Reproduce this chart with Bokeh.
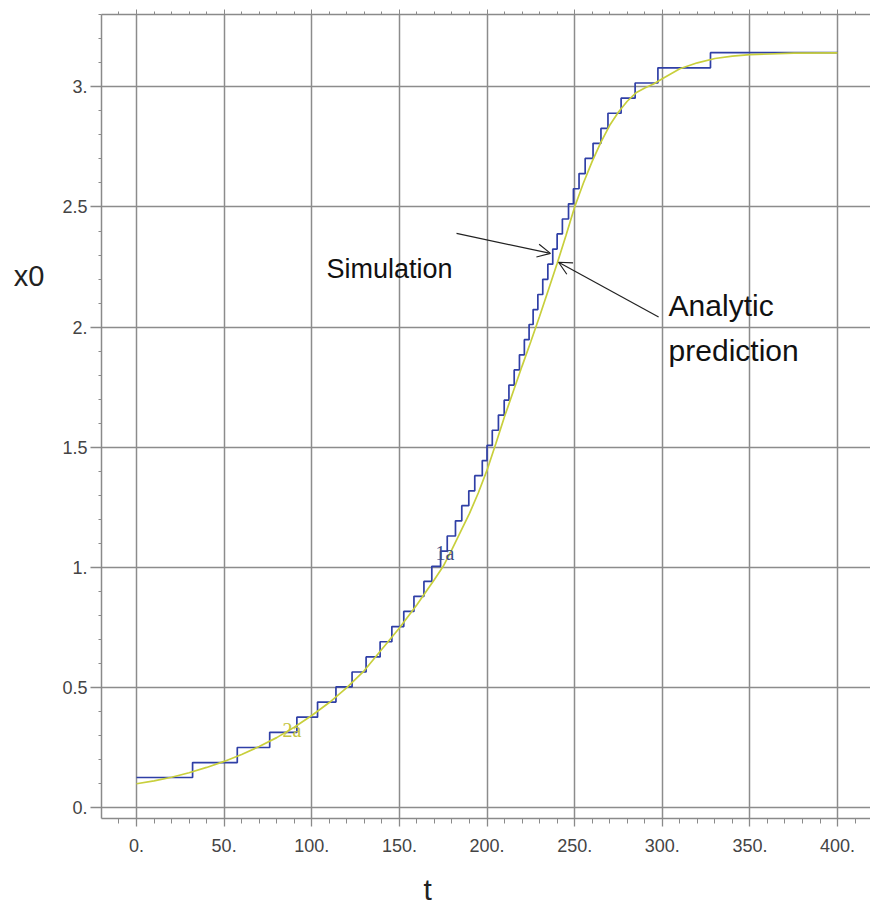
from bokeh.plotting import figure
from bokeh.models import FixedTicker, LinearAxis, Label, Arrow, OpenHead, Range1d
from bokeh.embed import file_html
from bokeh.resources import INLINE

# ---------------- data ----------------
# Simulation: stepwise levels x0 and the time at which each level begins
sim_t = [0, 32, 57.5, 76, 91.5, 103.3, 113.8, 123, 131, 139, 145.7, 152.5, 158.3,
         164, 168.5, 173.5, 177.3, 182, 185.6, 189.6, 193, 197.3, 200, 203, 206.5,
         209.8, 212.5, 215.5, 218.5, 221.3, 224, 226.3, 229, 231.8, 234.7, 237.5,
         240, 243, 246.5, 249.3, 252.5, 256, 260.5, 265, 269, 276.5, 284.5, 297.5,
         327.5]
sim_x0 = [0.126, 0.188, 0.251, 0.314, 0.377, 0.440, 0.503, 0.565, 0.628, 0.691,
          0.754, 0.817, 0.880, 0.942, 1.005, 1.068, 1.131, 1.194, 1.257, 1.319,
          1.382, 1.445, 1.508, 1.571, 1.634, 1.696, 1.759, 1.822, 1.885, 1.948,
          2.011, 2.073, 2.136, 2.199, 2.262, 2.325, 2.388, 2.450, 2.513, 2.576,
          2.639, 2.702, 2.765, 2.827, 2.890, 2.953, 3.016, 3.079, 3.142]
sim_t_end = 400

# Analytic prediction
ana_t = [0, 10, 20, 30, 40, 50, 60, 70, 80, 90, 100, 110, 120, 130, 140, 150, 160,
         170, 175, 180, 185, 190, 195, 200, 205, 210, 215, 220, 225, 230, 235, 240,
         245, 250, 255, 260, 265, 270, 275, 280, 285, 290, 295, 300, 310, 320, 330,
         340, 350, 375, 400]
ana_x0 = [0.100, 0.112, 0.127, 0.146, 0.168, 0.193, 0.222, 0.255, 0.292, 0.335,
          0.384, 0.438, 0.500, 0.571, 0.660, 0.748, 0.845, 0.950, 1.005, 1.075,
          1.150, 1.225, 1.310, 1.405, 1.515, 1.628, 1.733, 1.838, 1.940, 2.045,
          2.155, 2.265, 2.380, 2.500, 2.600, 2.690, 2.770, 2.840, 2.895, 2.940,
          2.975, 2.995, 3.012, 3.034, 3.075, 3.100, 3.118, 3.128, 3.134, 3.140,
          3.141]

x_ticks = [0, 50, 100, 150, 200, 250, 300, 350, 400]
x_tick_labels = ["0.", "50.", "100.", "150.", "200.", "250.", "300.", "350.", "400."]
y_ticks = [0, 0.5, 1.0, 1.5, 2.0, 2.5, 3.0]
y_tick_labels = ["0.", "0.5", "1.", "1.5", "2.", "2.5", "3."]
x_minor = [v * 10 for v in range(-2, 42)]
y_minor = [v / 10 for v in range(0, 34)]

x_title = "t"
y_title = "x0"

# ---------------- figure ----------------
p = figure(width=870, height=911,
           x_range=Range1d(-19.97, 418.8), y_range=Range1d(-0.0445, 3.301),
           output_backend="svg", toolbar_location=None,
           min_border_left=101, min_border_right=0, min_border_top=14,
           min_border_bottom=93)
p.outline_line_color = None
p.background_fill_color = "white"
p.border_fill_color = "white"

AX = "#8a8a8a"
FONT = "Liberation Sans"
NBSP = "\u00a0"

xt = FixedTicker(ticks=x_ticks, minor_ticks=x_minor)
yt = FixedTicker(ticks=y_ticks, minor_ticks=y_minor)
p.xaxis.ticker = xt
p.yaxis.ticker = yt
p.xaxis.major_label_overrides = dict(zip(x_ticks, x_tick_labels))
p.yaxis.major_label_overrides = dict(zip(y_ticks, y_tick_labels))

for ax in (p.xaxis[0], p.yaxis[0]):
    ax.axis_line_color = AX
    ax.axis_line_width = 1.5
    ax.major_tick_line_color = AX
    ax.major_tick_line_width = 1.3
    ax.minor_tick_line_color = AX
    ax.minor_tick_line_width = 1.0
    ax.major_tick_in = 0
    ax.minor_tick_in = 0
    ax.major_label_text_font = FONT
    ax.major_label_text_font_size = "18px"
    ax.major_label_text_color = "#444444"
    ax.axis_label_text_font = FONT
    ax.axis_label_text_font_style = "normal"
    ax.axis_label_text_color = "#222222"

p.xaxis.major_tick_out = 8
p.xaxis.minor_tick_out = 5
p.xaxis.major_label_standoff = 12
# axis title shifted left of centre with trailing no-break spaces
p.xaxis.axis_label = x_title + NBSP * 14
p.xaxis.axis_label_text_font_size = "30px"
p.xaxis.axis_label_standoff = 18

p.yaxis.major_tick_out = 11
p.yaxis.minor_tick_out = 3
p.yaxis.major_label_standoff = 3
# axis title raised above centre with extra (blank) lines below it
p.yaxis.axis_label = y_title + ("\n" + NBSP) * 8
p.yaxis.axis_label_orientation = "horizontal"
p.yaxis.axis_label_text_font_size = "29px"
p.yaxis.axis_label_text_line_height = 1.1
p.yaxis.axis_label_standoff = 15

top = LinearAxis(ticker=FixedTicker(ticks=x_ticks, minor_ticks=x_minor))
top.axis_line_color = AX
top.axis_line_width = 1.5
top.major_tick_line_color = AX
top.minor_tick_line_color = AX
top.major_tick_in = 0
top.minor_tick_in = 0
top.major_tick_out = 5
top.minor_tick_out = 3
top.major_label_text_font_size = "0px"
top.major_label_standoff = 0
p.add_layout(top, "above")

p.grid.grid_line_color = "#8c8c8c"
p.grid.grid_line_width = 1.5
p.xgrid.ticker = xt
p.ygrid.ticker = yt

# ---------------- curves ----------------
p.step(sim_t + [sim_t_end], sim_x0 + [sim_x0[-1]], mode="after",
       line_color="#2f3fa6", line_width=1.7)
p.line(ana_t, ana_x0, line_color="#c8cf3c", line_width=1.7)

# ---------------- texts & arrows ----------------
p.add_layout(Label(x=108.4, y=2.244, text="Simulation", text_font=FONT,
                   text_font_size="27px", text_color="#111111",
                   text_align="left", text_baseline="middle"))
p.add_layout(Label(x=303.6, y=2.091, text="Analytic", text_font=FONT,
                   text_font_size="30px", text_color="#111111",
                   text_align="left", text_baseline="middle"))
p.add_layout(Label(x=303.6, y=1.903, text="prediction", text_font=FONT,
                   text_font_size="30px", text_color="#111111",
                   text_align="left", text_baseline="middle"))
p.add_layout(Label(x=170.6, y=1.062, text="1a", text_font="Liberation Serif",
                   text_font_size="20px", text_color="#3c4c84",
                   text_align="left", text_baseline="middle"))
p.add_layout(Label(x=83.3, y=0.322, text="2a", text_font="Liberation Serif",
                   text_font_size="20px", text_color="#c4c440",
                   text_align="left", text_baseline="middle"))

p.add_layout(Arrow(end=OpenHead(size=13, line_width=1.2, line_color="#222222"),
                   x_start=182.6, y_start=2.39, x_end=236.2, y_end=2.307,
                   line_width=1.2, line_color="#222222"))
p.add_layout(Arrow(end=OpenHead(size=13, line_width=1.2, line_color="#222222"),
                   x_start=297.9, y_start=2.042, x_end=240.8, y_end=2.27,
                   line_width=1.2, line_color="#222222"))

open("out.html", "w").write(file_html(p, INLINE))
